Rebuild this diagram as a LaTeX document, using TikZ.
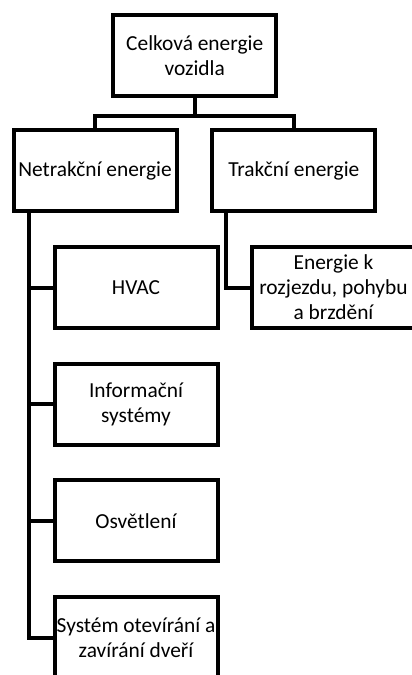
\documentclass[tikz,border=0pt]{standalone}
\usepackage{fontspec}
\setmainfont{Carlito}
\usetikzlibrary{positioning}

\begin{document}
\begin{tikzpicture}[x=1pt,y=-1pt,
  box/.style={draw,line width=4pt,minimum width=163pt,minimum height=81pt,
    align=center,inner sep=1pt,font=\fontsize{21.4}{25}\selectfont},
  link/.style={line width=4pt}]
\useasboundingbox (0,0) rectangle (412,675);
\clip (0,0) rectangle (412,675);
\node[box] (celk) at (194.7,55.8) {Celková energie\\vozidla};
\node[box] (netr) at (95,170.8) {Netrakční energie};
\node[box] (trak) at (293.8,170.8) {Trakční energie};
\node[box] (pohon) at (333.5,287.5) {Energie k\\rozjezdu, pohybu\\a brzdění};
\foreach \n/\y/\t in {hvac/287.5/HVAC,info/404.2/Informační\\systémy,
  svet/520.9/Osvětlení,dvere/637.6/Systém otevírání a\\zavírání dveří}
  \node[box] (\n) at (136,\y) {\t};
% rozvetveni
\coordinate (fork) at ([yshift=-17.7pt]celk.south);
\draw[link] (celk.south) -- (fork) -| (netr.north);
\draw[link] (fork) -| (trak.north);
\coordinate (nt) at ([xshift=17pt]netr.south west);
\coordinate (tt) at ([xshift=16pt]trak.south west);
\draw[link] (nt) |- (dvere.west);
\foreach \n in {hvac,info,svet}
  \draw[link] (nt |- \n.west) -- (\n.west);
\draw[link] (tt) |- (pohon.west);
\end{tikzpicture}
\end{document}
